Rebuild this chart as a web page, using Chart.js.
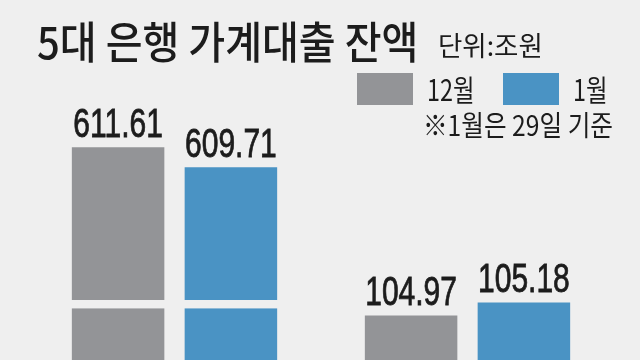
<!DOCTYPE html>
<html>
<head>
<meta charset="utf-8">
<script src="https://cdn.jsdelivr.net/npm/chart.js@4.4.1/dist/chart.umd.min.js"></script>
<style>
  html, body { margin: 0; padding: 0; background: #efefef; overflow: hidden; }
  canvas { display: block; }
</style>
</head>
<body>
<canvas id="loanChart" width="640" height="360"></canvas>
<script>
// 5대 은행 가계대출 잔액, 단위: 조원
const categories = ['가계대출', '신용대출'];
const seriesNames = ['12월', '1월'];
const dec = [611.61, 104.97];
const jan = [609.71, 105.18];

const GRAY = '#939497';
const BLUE = '#4a93c4';
const BG = '#efefef';
const INK = '#1c1c1c';

// the print graphic puts the two groups on different (broken) scales,
// so each group gets its own hidden value axis
const axisFor = ['yBig', 'ySmall'];
const breakRange = [596.3, 597.1];

const datasets = [];
categories.forEach((cat, c) => {
  [dec, jan].forEach((vals, m) => {
    datasets.push({
      label: seriesNames[m],
      data: categories.map((_, i) => (i === c ? vals[i] : null)),
      backgroundColor: m === 0 ? GRAY : BLUE,
      yAxisID: axisFor[c],
      skipNull: true,
      barPercentage: 0.82,
      categoryPercentage: 0.77
    });
  });
});

function squeezeText(ctx, text, x, y, font, sx, align) {
  ctx.save();
  ctx.font = font;
  ctx.fillStyle = INK;
  ctx.textAlign = align || 'left';
  ctx.textBaseline = 'alphabetic';
  ctx.translate(x, y);
  ctx.scale(sx, 1);
  ctx.fillText(text, 0, 0);
  ctx.restore();
}

const bgPlugin = {
  id: 'bg',
  beforeDraw(chart) {
    const ctx = chart.ctx;
    ctx.save();
    ctx.fillStyle = BG;
    ctx.fillRect(0, 0, chart.width, chart.height);
    ctx.restore();
  }
};

const breakPlugin = {
  id: 'axisBreak',
  afterDatasetsDraw(chart) {
    const ctx = chart.ctx;
    const y = chart.scales.yBig;
    const top = y.getPixelForValue(breakRange[1]);
    const bottom = y.getPixelForValue(breakRange[0]);
    ctx.save();
    ctx.fillStyle = BG;
    chart.data.datasets.forEach((ds, i) => {
      if (ds.yAxisID !== 'yBig') return;
      chart.getDatasetMeta(i).data.forEach((bar, j) => {
        if (ds.data[j] == null) return;
        ctx.fillRect(bar.x - bar.width / 2 - 1, top, bar.width + 2, bottom - top);
      });
    });
    ctx.restore();
  }
};

const valuePlugin = {
  id: 'values',
  afterDatasetsDraw(chart) {
    const ctx = chart.ctx;
    chart.data.datasets.forEach((ds, i) => {
      chart.getDatasetMeta(i).data.forEach((bar, j) => {
        if (ds.data[j] == null) return;
        ctx.save();
        ctx.strokeStyle = INK;
        ctx.lineWidth = 0.8;
        ctx.font = '40px "Liberation Sans", Arial, sans-serif';
        ctx.textAlign = 'center';
        ctx.translate(bar.x, bar.y - 10);
        ctx.scale(0.75, 1);
        ctx.fillStyle = INK;
        ctx.fillText(ds.data[j].toFixed(2), 0, 0);
        ctx.strokeText(ds.data[j].toFixed(2), 0, 0);
        ctx.restore();
      });
    });
  }
};

const headerPlugin = {
  id: 'header',
  afterDraw(chart) {
    const ctx = chart.ctx;
    const kr = '"Noto Sans CJK KR", sans-serif';
    squeezeText(ctx, '5대 은행 가계대출 잔액', 37, 59, '500 44px ' + kr, 0.91);
    squeezeText(ctx, '단위:조원', 438, 56, '27px ' + kr, 0.98);

    // legend
    const boxX = [357, 503];
    [GRAY, BLUE].forEach((col, k) => {
      ctx.fillStyle = col;
      ctx.fillRect(boxX[k], 73, 56, 32);
      squeezeText(ctx, seriesNames[k], boxX[k] + 70, 101, '30px ' + kr, 0.78);
    });

    squeezeText(ctx, '※1월은 29일 기준', 613, 136, '28px ' + kr, 0.88, 'right');
  }
};

new Chart(document.getElementById('loanChart'), {
  type: 'bar',
  data: { labels: categories, datasets: datasets },
  options: {
    responsive: false,
    animation: false,
    devicePixelRatio: 1,
    layout: { padding: { left: 28, right: 26, top: 0, bottom: 0 } },
    plugins: { legend: { display: false }, tooltip: { enabled: false } },
    scales: {
      x: { display: false },
      yBig: { display: false, min: 591.4, max: 625.6 },
      ySmall: { display: false, min: 104.25, max: 110.07 }
    }
  },
  plugins: [bgPlugin, breakPlugin, valuePlugin, headerPlugin]
});
</script>
</body>
</html>
